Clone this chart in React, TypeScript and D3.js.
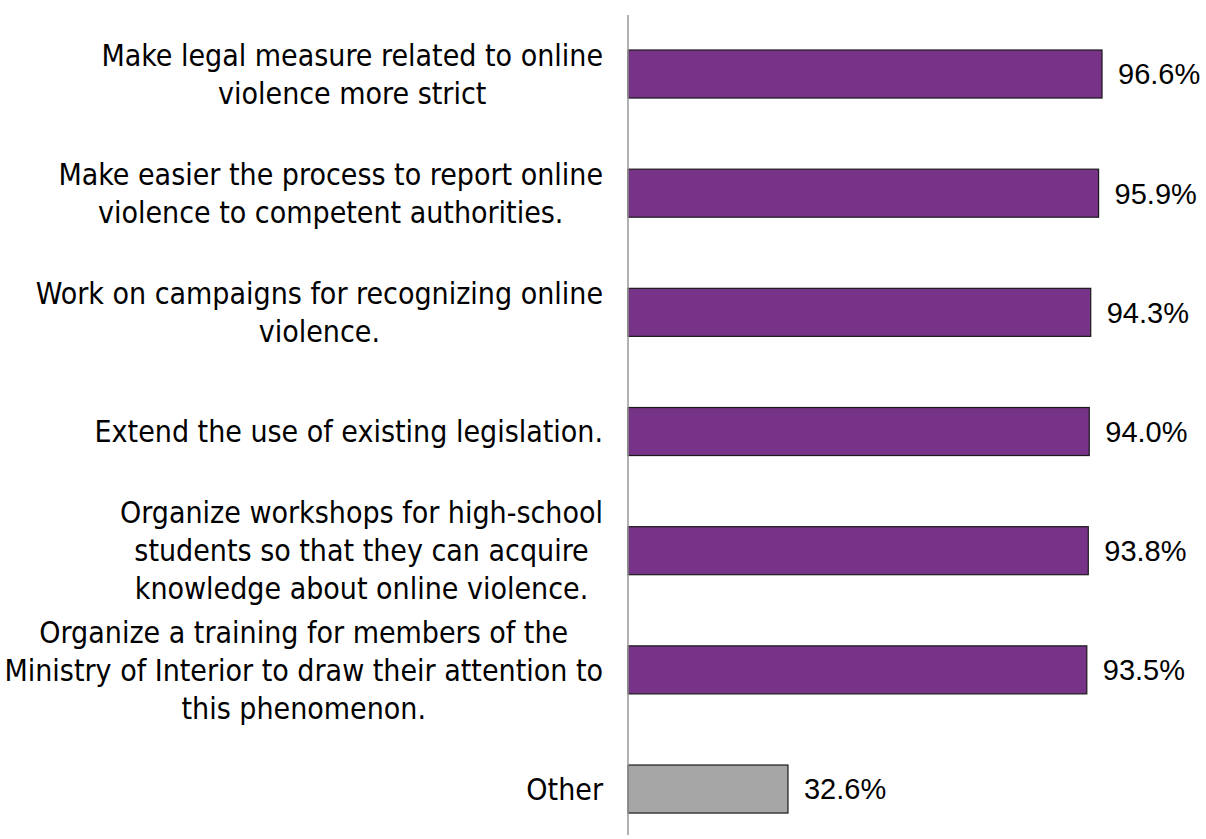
import React from "react";
import * as d3 from "d3";

const categories: string[][] = [
  ["Make legal measure related to online", "violence more strict"],
  ["Make easier the process to report online", "violence to competent authorities."],
  ["Work on campaigns for recognizing online", "violence."],
  ["Extend the use of existing legislation."],
  ["Organize workshops for high-school", "students so that they can acquire", "knowledge about online violence."],
  ["Organize a training for members of the", "Ministry of Interior to draw their attention to", "this phenomenon."],
  ["Other"],
];
const values: number[] = [96.6, 95.9, 94.3, 94.0, 93.8, 93.5, 32.6];
const colors: string[] = ["#763387", "#763387", "#763387", "#763387", "#763387", "#763387", "#A6A6A6"];

const W = 1206;
const H = 839;
const LABEL_FONT = "'Liberation Sans Narrow', 'DejaVu Sans Condensed', Roboto, sans-serif";
const LABEL_SIZE = 30;
const LINE_H = 38;

let ctx: CanvasRenderingContext2D | null = null;
function measure(text: string, font: string): number {
  if (!ctx) ctx = document.createElement("canvas").getContext("2d");
  if (!ctx) return text.length * 13;
  ctx.font = font;
  return ctx.measureText(text).width;
}

export default function App() {
  const x = d3.scaleLinear().domain([0, 100]).range([628, 1118.7]);
  const idx = d3.range(values.length);
  const y = d3
    .scaleBand<number>()
    .domain(idx)
    .range([14.25, 848.8])
    .paddingInner(0.597)
    .paddingOuter(0.3);
  const labelRight = 603;

  return (
    <svg width={W} height={H} style={{ position: "absolute", left: 0, top: 0, background: "#fff" }}>
      <rect x={0} y={0} width={W} height={H} fill="#ffffff" />
      {idx.map((i) => {
        const y0 = y(i)!;
        const bh = y.bandwidth();
        const cy = y0 + bh / 2;
        const lines = categories[i];
        const font = `${LABEL_SIZE}px ${LABEL_FONT}`;
        const maxW = Math.max(...lines.map((l) => measure(l, font)));
        const cx = labelRight - maxW / 2;
        const startY = cy - ((lines.length - 1) * LINE_H) / 2;
        return (
          <g key={i}>
            <rect
              x={x(0)}
              y={y0}
              width={x(values[i]) - x(0)}
              height={bh}
              fill={colors[i]}
              stroke="#1a1a1a"
              strokeWidth={1.2}
            />
            <text
              x={x(values[i]) + 16}
              y={cy}
              dy="0.36em"
              fontFamily="'Liberation Sans', Arial, sans-serif"
              fontSize={29}
              fill="#000"
            >
              {values[i].toFixed(1) + "%"}
            </text>
            {lines.map((l, k) => (
              <text
                key={k}
                x={cx}
                y={startY + k * LINE_H}
                dy="0.36em"
                textAnchor="middle"
                fontFamily={LABEL_FONT}
                fontSize={LABEL_SIZE}
                fill="#000"
              >
                {l}
              </text>
            ))}
          </g>
        );
      })}
      <line x1={x(0)} x2={x(0)} y1={15} y2={835} stroke="#999999" strokeWidth={1.5} />
    </svg>
  );
}
